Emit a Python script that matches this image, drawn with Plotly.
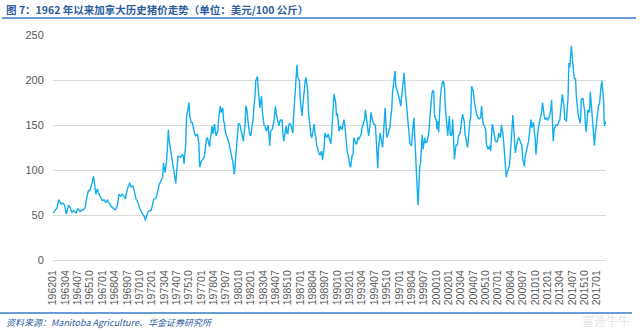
import plotly.graph_objects as go

# Monthly Canadian hog price (USD/100 kg), Jan 1962 - Dec 2017
price_by_year = {
    1962: [52, 53, 54, 55, 56, 58, 63, 67, 65, 63, 62, 63],
    1963: [63, 62, 61, 57, 51, 54, 58, 61, 59, 58, 55, 53],
    1964: [54, 55, 54, 53, 52, 55, 57, 56, 55, 54, 55, 55],
    1965: [56, 56, 57, 58, 64, 71, 74, 77, 77, 78, 80, 84],
    1966: [88, 93, 88, 80, 73, 77, 79, 75, 73, 70, 69, 67],
    1967: [66, 67, 67, 65, 64, 65, 67, 65, 64, 62, 60, 59],
    1968: [58, 57, 56, 56, 56, 58, 60, 66, 73, 72, 71, 72],
    1969: [73, 72, 71, 69, 68, 74, 80, 81, 82, 86, 83, 81],
    1970: [82, 82, 79, 74, 71, 67, 66, 64, 61, 58, 56, 53],
    1971: [52, 51, 49, 48, 44, 47, 51, 53, 54, 55, 55, 55],
    1972: [58, 62, 67, 68, 68, 69, 72, 77, 80, 84, 86, 88],
    1973: [90, 92, 108, 100, 97, 105, 112, 128, 145, 132, 126, 121],
    1974: [116, 112, 103, 96, 90, 85, 98, 110, 116, 115, 114, 114],
    1975: [116, 117, 116, 107, 118, 128, 158, 165, 170, 175, 160, 153],
    1976: [152, 153, 148, 143, 140, 138, 139, 140, 135, 130, 103, 107],
    1977: [110, 111, 112, 113, 117, 127, 133, 136, 134, 129, 126, 135],
    1978: [140, 149, 140, 146, 151, 142, 138, 141, 143, 158, 164, 171],
    1979: [164, 167, 169, 155, 152, 143, 139, 136, 134, 132, 128, 124],
    1980: [120, 116, 110, 103, 95, 106, 118, 136, 145, 152, 151, 150],
    1981: [145, 140, 137, 132, 142, 151, 171, 169, 160, 149, 143, 139],
    1982: [138, 145, 152, 158, 173, 180, 199, 202, 204, 190, 180, 169],
    1983: [176, 182, 165, 153, 150, 149, 145, 143, 147, 150, 140, 127],
    1984: [143, 144, 145, 150, 153, 163, 171, 162, 158, 152, 149, 153],
    1985: [156, 155, 156, 140, 132, 138, 143, 149, 141, 140, 149, 152],
    1986: [151, 149, 145, 141, 160, 175, 199, 212, 217, 203, 201, 199],
    1987: [180, 169, 160, 170, 180, 197, 199, 203, 193, 188, 165, 155],
    1988: [140, 138, 136, 141, 145, 151, 140, 136, 127, 124, 119, 118],
    1989: [117, 119, 121, 111, 116, 125, 141, 138, 136, 138, 140, 136],
    1990: [132, 129, 138, 160, 170, 184, 178, 175, 160, 163, 155, 143],
    1991: [146, 149, 146, 145, 152, 156, 151, 140, 128, 120, 117, 108],
    1992: [106, 103, 110, 116, 117, 136, 133, 130, 129, 130, 136, 134],
    1993: [136, 138, 140, 147, 151, 153, 156, 167, 160, 153, 145, 138],
    1994: [145, 156, 164, 158, 152, 151, 151, 150, 138, 125, 102, 125],
    1995: [133, 141, 136, 132, 125, 140, 164, 169, 150, 136, 139, 141],
    1996: [145, 149, 160, 167, 186, 197, 203, 210, 193, 190, 189, 184],
    1997: [180, 176, 171, 181, 191, 200, 208, 193, 183, 173, 158, 152],
    1998: [145, 130, 128, 127, 140, 154, 158, 136, 108, 92, 77, 61],
    1999: [99, 104, 108, 125, 139, 123, 132, 136, 130, 131, 132, 137],
    2000: [141, 155, 165, 178, 186, 188, 187, 160, 158, 156, 145, 154],
    2001: [142, 165, 180, 190, 195, 199, 198, 191, 170, 160, 151, 138],
    2002: [150, 160, 140, 138, 140, 156, 135, 112, 120, 128, 127, 130],
    2003: [138, 140, 141, 149, 156, 162, 158, 154, 140, 133, 127, 125],
    2004: [135, 151, 155, 160, 193, 190, 188, 177, 170, 164, 162, 160],
    2005: [158, 157, 157, 158, 171, 153, 151, 150, 146, 145, 128, 125],
    2006: [123, 125, 127, 121, 135, 151, 147, 140, 138, 132, 132, 131],
    2007: [136, 141, 138, 136, 150, 145, 140, 129, 118, 108, 92, 97],
    2008: [99, 102, 106, 125, 136, 147, 161, 150, 136, 119, 125, 132],
    2009: [134, 136, 134, 132, 130, 127, 112, 106, 104, 115, 121, 125],
    2010: [128, 132, 140, 149, 156, 147, 150, 153, 142, 136, 117, 132],
    2011: [138, 147, 152, 158, 162, 165, 175, 163, 160, 156, 157, 158],
    2012: [155, 156, 158, 163, 167, 178, 158, 132, 145, 148, 150, 150],
    2013: [149, 152, 154, 156, 165, 177, 184, 178, 171, 156, 156, 154],
    2014: [165, 182, 219, 214, 227, 238, 226, 214, 205, 201, 202, 182],
    2015: [167, 163, 158, 155, 152, 178, 180, 180, 172, 167, 151, 142],
    2016: [155, 167, 165, 164, 187, 175, 160, 142, 130, 127, 140, 149],
    2017: [160, 171, 172, 173, 188, 192, 199, 185, 178, 149, 154, 151],
}

months = []
prices = []
for yr in sorted(price_by_year):
    for i, v in enumerate(price_by_year[yr]):
        months.append(f"{yr}{i + 1:02d}")
        prices.append(v)

tick_labels = months[::15]
y_ticks = [0, 50, 100, 150, 200, 250]

title_text = "图 7：1962 年以来加拿大历史猪价走势（单位：美元/100 公斤）"
source_text = "资料来源：Manitoba Agriculture、华金证券研究所"

W, H = 640, 332
ml, mr, mt, mb = 53, 34, 35, 72
pw, ph = W - ml - mr, H - mt - mb


def px_x(x):
    return (x - ml) / pw


def px_y(y):
    return (H - mb - y) / ph


fig = go.Figure()
fig.add_trace(go.Scatter(
    x=months, y=prices, mode="lines",
    line=dict(color="#12AEEF", width=1.4),
    hoverinfo="x+y", showlegend=False,
))

font_lat = "Liberation Sans, Arial, Noto Sans CJK SC, sans-serif"
font_cjk = "Noto Sans CJK SC, Liberation Sans, sans-serif"

fig.update_layout(
    width=W, height=H,
    margin=dict(l=ml, r=mr, t=mt, b=mb, pad=0),
    paper_bgcolor="white", plot_bgcolor="white",
    font=dict(family=font_lat, size=11, color="#595959"),
    xaxis=dict(
        type="category", categoryorder="array", categoryarray=months,
        range=[0, len(months) - 1],
        tickmode="array", tickvals=tick_labels, ticktext=tick_labels,
        tickangle=-90, tickfont=dict(size=10.5, color="#595959"),
        ticks="outside", ticklen=5, tickcolor="rgba(0,0,0,0)",
        showgrid=False, showline=True, linecolor="#d9d9d9", linewidth=1,
        zeroline=False,
    ),
    yaxis=dict(
        range=[0, 250], tickmode="array", tickvals=y_ticks,
        tickfont=dict(size=11, color="#595959"),
        ticks="outside", ticklen=6, tickcolor="rgba(0,0,0,0)",
        showgrid=True, gridcolor="#d9d9d9", gridwidth=1,
        zeroline=False, showline=False,
    ),
)

# title and separator lines
fig.add_annotation(
    xref="paper", yref="paper", x=px_x(4), y=px_y(10),
    xanchor="left", yanchor="middle", showarrow=False,
    text="<b>" + title_text + "</b>",
    font=dict(family=font_cjk, size=10.5, color="#2E5D9F"),
)
fig.add_shape(type="line", xref="paper", yref="paper",
              x0=px_x(2), x1=px_x(636), y0=px_y(18), y1=px_y(18),
              line=dict(color="#3A7CC4", width=1.5))
fig.add_shape(type="line", xref="paper", yref="paper",
              x0=px_x(0), x1=px_x(632), y0=px_y(313), y1=px_y(313),
              line=dict(color="#3A7CC4", width=1.5))
fig.add_annotation(
    xref="paper", yref="paper", x=px_x(4), y=px_y(322),
    xanchor="left", yanchor="middle", showarrow=False,
    text="<i>" + source_text + "</i>",
    font=dict(family=font_cjk, size=9, color="#2E5D9F"),
)
fig.add_annotation(
    xref="paper", yref="paper", x=px_x(632), y=px_y(320),
    xanchor="right", yanchor="middle", showarrow=False,
    text="富途牛牛",
    font=dict(family=font_cjk, size=12, color="#E3E6EA"),
)

fig.write_html("out.html")
